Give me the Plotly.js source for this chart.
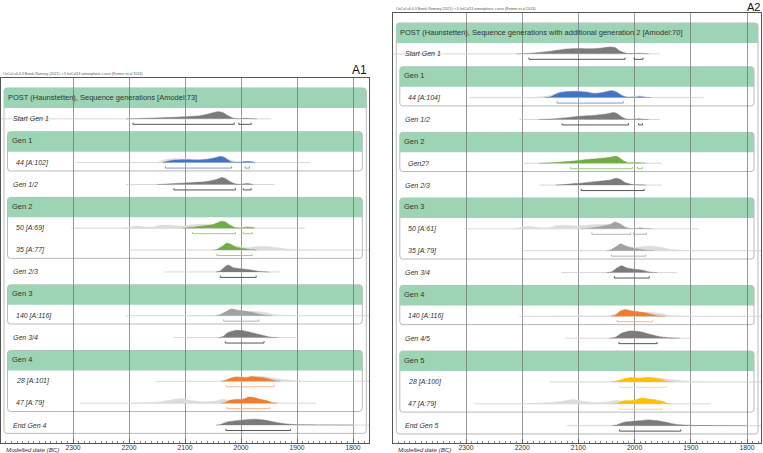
<!DOCTYPE html>
<html>
<head>
<meta charset="utf-8">
<script src="https://cdn.plot.ly/plotly-3.0.1.min.js"></script>
<style>
  html, body { margin: 0; padding: 0; background: #fff; }
  #chart { width: 763px; height: 453px; }
</style>
</head>
<body>
<div id="chart"></div>
<script>
var ticks = [2300, 2200, 2100, 2000, 1900, 1800];

// ---- A1 : Sequence generations ----
var a1Labels = ['POST (Haunstetten), Sequence generations [Amodel:73]', 'Start Gen 1', 'Gen 1', '44 [A:102]', 'Gen 1/2',
  'Gen 2', '50 [A:69]', '35 [A:77]', 'Gen 2/3', 'Gen 3', '140 [A:116]', 'Gen 3/4', 'Gen 4', '28 [A:101]', '47 [A:79]', 'End Gen 4'];

var a1StartTail = [2430, 1946];
var a1StartPost = [[2205,0],[2145,0.14],[2100,0.29],[2074,0.43],[2059,0.67],[2050,0.86],[2041,1],[2032,0.86],[2023,0.43],[2014,0.1],[2003,0.03],[1992,0.08],[1980,0.02],[1972,0]];
var a1StartRange = [[2193,2012],[2004,1982]];

var a1G1Tail = [2295, 1876];
var a1G1Prior = [[2150,0],[2140,0.3],[2130,0.5],[2115,0.55],[2095,0.5],[2075,0.45],[2060,0.5],[2045,0.75],[2037,0.9],[2028,0.75],[2018,0.35],[2010,0.1],[2000,0.08],[1990,0.2],[1980,0.05],[1970,0]];
var a1G1Post = [[2140,0],[2130,0.2],[2118,0.35],[2098,0.4],[2074,0.35],[2059,0.45],[2044,0.7],[2037,0.85],[2030,0.7],[2023,0.35],[2017,0.1],[2005,0.04],[1990,0.15],[1982,0.12],[1975,0]];
var a1G1Range = [[2135,2017],[1993,1985]];

var a1G12Tail = [2205, 1940];
var a1G12Post = [[2150,0],[2100,0.2],[2062,0.4],[2044,0.7],[2034,0.95],[2029,0.85],[2020,0.4],[2011,0.1],[2000,0.03],[1988,0.12],[1978,0]];
var a1G12Range = [[2120,2010],[1996,1982]];

var a1S50Tail = [2303, 1886];
var a1S50Prior = [[2215,0],[2199,0.15],[2187,0.3],[2175,0.2],[2155,0.18],[2145,0.4],[2133,0.45],[2118,0.35],[2104,0.3],[2092,0.45],[2074,0.55],[2056,0.55],[2038,0.55],[2026,0.3],[2014,0.05],[2000,0.05],[1990,0.15],[1978,0]];
var a1S50Post = [[2105,0],[2090,0.1],[2068,0.3],[2050,0.5],[2035,0.95],[2029,0.9],[2020,0.45],[2011,0.1],[2000,0.03],[1990,0.15],[1982,0.12],[1975,0]];
var a1S50Range = [[2087,2010],[1996,1980]];

var a1S35Tail = [2200, 1771];
var a1S35Prior = [[2045,0],[2026,0.5],[2014,0.55],[2000,0.4],[1985,0.35],[1973,0.5],[1955,0.5],[1937,0.35],[1919,0.15],[1895,0.03],[1880,0]];
var a1S35Post = [[2050,0],[2044,0.05],[2032,0.6],[2026,0.95],[2020,0.85],[2008,0.4],[1990,0.15],[1979,0.03],[1972,0]];
var a1S35Range = [[2043,1980]];

var a1G23Tail = [2136, 1930];
var a1G23Post = [[2045,0],[2038,0.1],[2029,0.7],[2023,0.95],[2014,0.6],[2000,0.45],[1985,0.3],[1970,0.1],[1960,0.03],[1950,0]];
var a1G23Range = [[2037,1973]];

var a1S140Tail = [2205, 1771];
var a1S140Prior = [[2130,0],[2115,0.04],[2100,0],[2045,0],[2038,0.2],[2026,0.5],[2014,0.7],[2000,0.6],[1985,0.6],[1967,0.55],[1955,0.4],[1940,0.15],[1910,0.03],[1895,0]];
var a1S140Post = [[2045,0],[2038,0.1],[2026,0.6],[2017,0.95],[2008,0.8],[1994,0.65],[1979,0.45],[1967,0.2],[1955,0.05],[1945,0]];
var a1S140Range = [[2031,1968]];

var a1G34Tail = [2121, 1901];
var a1G34Post = [[2040,0],[2032,0.15],[2023,0.7],[2008,1],[1996,0.95],[1979,0.65],[1961,0.3],[1949,0.08],[1935,0]];
var a1G34Range = [[2028,1959]];

var a1S28Tail = [2151, 1771];
var a1S28Prior = [[2035,0],[2029,0.1],[2014,0.55],[2000,0.6],[1979,0.6],[1961,0.65],[1943,0.45],[1925,0.25],[1907,0.1],[1890,0.02],[1880,0]];
var a1S28Post = [[2035,0],[2029,0.1],[2020,0.4],[2008,0.6],[2000,0.55],[1990,0.5],[1982,0.65],[1973,0.6],[1961,0.5],[1949,0.3],[1937,0.05],[1930,0]];
var a1S28Range = [[2026,1941]];

var a1S47Tail = [2287, 1866];
var a1S47Prior = [[2200,0],[2187,0.03],[2139,0.25],[2121,0.5],[2106,0.65],[2092,0.4],[2068,0.2],[2044,0.3],[2032,0.55],[2023,0.4],[2010,0.45],[1996,0.55],[1985,0.85],[1976,0.75],[1964,0.5],[1952,0.3],[1943,0.05],[1935,0]];
var a1S47Post = [[2035,0],[2029,0.05],[2020,0.4],[2008,0.5],[1996,0.55],[1985,0.85],[1976,0.75],[1964,0.5],[1952,0.3],[1943,0.05],[1935,0]];
var a1S47Range = [[2025,1949]];

var a1EndTail = [2044, 1771];
var a1EndPost = [[2045,0],[2038,0.05],[2026,0.4],[2008,0.6],[1990,0.75],[1973,0.8],[1955,0.65],[1937,0.35],[1919,0.15],[1895,0.04],[1850,0.02],[1800,0]];
var a1EndRange = [[2027,1912]];

// ---- A2 : with additional generation 2 ----
var a2Labels = ['POST (Haunstetten), Sequence generations with additional generation 2 [Amodel:70]', 'Start Gen 1', 'Gen 1', '44 [A:104]', 'Gen 1/2',
  'Gen 2', 'Gen2?', 'Gen 2/3', 'Gen 3', '50 [A:61]', '35 [A:79]', 'Gen 3/4', 'Gen 4', '140 [A:116]', 'Gen 4/5', 'Gen 5', '28 [A:100]', '47 [A:79]', 'End Gen 5'];

var a2StartTail = [2430, 1955];
var a2StartPost = [[2210,0],[2190,0.05],[2157,0.3],[2133,0.55],[2121,0.67],[2098,0.76],[2080,0.7],[2062,0.78],[2044,0.95],[2035,0.88],[2026,0.4],[2014,0.06],[2000,0.05],[1993,0.1],[1985,0.05],[1975,0]];
var a2StartRange = [[2188,2017],[2001,1985]];

var a2G1Tail = [2294, 1877];
var a2G1Prior = [[2200,0],[2180,0.05],[2150,0.3],[2136,0.7],[2121,0.9],[2104,0.92],[2086,0.85],[2071,0.65],[2056,0.75],[2041,1],[2032,0.8],[2023,0.35],[2010,0.1],[1990,0.25],[1978,0.05],[1965,0]];
var a2G1Post = [[2160,0],[2150,0.1],[2136,0.6],[2121,0.8],[2104,0.85],[2086,0.75],[2071,0.55],[2056,0.7],[2041,0.95],[2032,0.75],[2023,0.3],[2014,0.06],[2000,0.05],[1990,0.12],[1982,0.06],[1972,0]];
var a2G1Range = [[2138,2020]];

var a2G12Tail = [2205, 1955];
var a2G12Post = [[2170,0],[2151,0.05],[2121,0.25],[2098,0.45],[2068,0.6],[2050,0.75],[2038,0.95],[2032,0.85],[2023,0.35],[2014,0.06],[2000,0.04],[1993,0.1],[1985,0.03],[1975,0]];
var a2G12Range = [[2129,2011],[1993,1986]];

var a2G2Tail = [2200, 1952];
var a2G2Post = [[2170,0],[2151,0.05],[2110,0.3],[2080,0.55],[2050,0.75],[2035,0.95],[2029,0.85],[2020,0.35],[2011,0.08],[2000,0.05],[1990,0.06],[1980,0]];
var a2G2Range = [[2114,2004],[1995,1986]];

var a2G23Tail = [2169, 1952];
var a2G23Post = [[2140,0],[2133,0.03],[2098,0.25],[2068,0.5],[2044,0.7],[2033,0.95],[2026,0.8],[2017,0.35],[2005,0.08],[1990,0.03],[1980,0]];
var a2G23Range = [[2095,1983]];

var a2S50Tail = [2303, 1886];
var a2S50Prior = [[2215,0],[2199,0.25],[2187,0.35],[2169,0.15],[2151,0.2],[2139,0.45],[2121,0.5],[2104,0.4],[2086,0.5],[2068,0.6],[2050,0.6],[2038,0.65],[2023,0.3],[2012,0.05],[2000,0.05],[1990,0.15],[1978,0.03],[1970,0]];
var a2S50Post = [[2095,0],[2086,0.05],[2062,0.3],[2044,0.6],[2035,0.95],[2026,0.7],[2017,0.25],[2008,0.05],[2000,0.04],[1990,0.12],[1979,0.03],[1970,0]];
var a2S50Range = [[2076,2007],[2002,1979]];

var a2S35Tail = [2200, 1775];
var a2S35Prior = [[2050,0],[2041,0.2],[2029,0.55],[2014,0.55],[2002,0.45],[1990,0.5],[1976,0.65],[1955,0.5],[1937,0.2],[1913,0.05],[1890,0]];
var a2S35Post = [[2050,0],[2044,0.05],[2032,0.6],[2025,0.95],[2017,0.7],[2002,0.35],[1987,0.15],[1976,0.03],[1965,0]];
var a2S35Range = [[2041,1980]];

var a2G34Tail = [2130, 1925];
var a2G34Post = [[2050,0],[2041,0.1],[2032,0.6],[2023,0.95],[2014,0.65],[1999,0.45],[1985,0.3],[1973,0.08],[1960,0]];
var a2G34Range = [[2036,1974]];

var a2S140Tail = [2205, 1775];
var a2S140Prior = [[2140,0],[2133,0.03],[2100,0.03],[2050,0.02],[2038,0.2],[2026,0.5],[2014,0.65],[1990,0.55],[1973,0.55],[1955,0.4],[1940,0.15],[1913,0.03],[1895,0]];
var a2S140Post = [[2042,0],[2035,0.15],[2026,0.7],[2017,0.95],[2005,0.75],[1990,0.6],[1976,0.4],[1964,0.15],[1955,0.03],[1945,0]];
var a2S140Range = [[2031,1968]];

var a2G45Tail = [2124, 1901];
var a2G45Post = [[2045,0],[2035,0.1],[2023,0.7],[2008,1],[1990,0.9],[1973,0.55],[1955,0.2],[1937,0.05],[1920,0]];
var a2G45Range = [[2028,1960]];

var a2S28Tail = [2151, 1775];
var a2S28Prior = [[2040,0],[2032,0.1],[2014,0.5],[1990,0.55],[1967,0.6],[1943,0.4],[1919,0.2],[1895,0.05],[1875,0]];
var a2S28Post = [[2040,0],[2032,0.1],[2020,0.4],[2005,0.6],[1993,0.5],[1976,0.65],[1964,0.5],[1952,0.35],[1943,0.1],[1937,0.02],[1930,0]];
var a2S28Range = [[2026,1943]];

var a2S47Tail = [2285, 1865];
var a2S47Prior = [[2200,0],[2187,0.03],[2139,0.25],[2121,0.45],[2110,0.6],[2095,0.4],[2068,0.15],[2044,0.3],[2032,0.5],[2023,0.35],[2002,0.45],[1987,0.8],[1976,0.65],[1961,0.5],[1949,0.3],[1943,0.05],[1935,0]];
var a2S47Post = [[2040,0],[2032,0.05],[2020,0.4],[2002,0.45],[1987,0.8],[1976,0.65],[1961,0.5],[1949,0.3],[1943,0.05],[1935,0]];
var a2S47Range = [[2026,1951]];

var a2EndTail = [2121, 1775];
var a2EndPost = [[2040,0],[2032,0.1],[2020,0.45],[2002,0.6],[1976,0.8],[1961,0.7],[1937,0.35],[1919,0.12],[1895,0.04],[1850,0.02],[1800,0]];
var a2EndRange = [[2027,1918]];

// colours
var PRIOR = '#dcdcdc', DARK = '#7b7b7b', MID = '#a2a2a2';
var BLUE = '#4472c4', GREEN = '#70ad47', ORANGE = '#ed7d31', YELLOW = '#ffc000';
var BAND = '#9cd4b5', BOXLINE = '#b9b9b9';
var H = 0.33;   // peak height in row units

// row descriptions: [kind, tail, prior, post, ranges, colour, range colour]
var a1Rows = [
  ['post'],
  ['row', a1StartTail, null, a1StartPost, a1StartRange, DARK, '#555'],
  ['band'],
  ['inner', a1G1Tail, a1G1Prior, a1G1Post, a1G1Range, BLUE, '#7c9ddb'],
  ['row', a1G12Tail, null, a1G12Post, a1G12Range, DARK, '#555'],
  ['band'],
  ['inner', a1S50Tail, a1S50Prior, a1S50Post, a1S50Range, GREEN, '#9ccd7e'],
  ['inner', a1S35Tail, a1S35Prior, a1S35Post, a1S35Range, GREEN, '#9ccd7e'],
  ['row', a1G23Tail, null, a1G23Post, a1G23Range, DARK, '#555'],
  ['band'],
  ['inner', a1S140Tail, a1S140Prior, a1S140Post, a1S140Range, MID, '#b3b3b3'],
  ['row', a1G34Tail, null, a1G34Post, a1G34Range, DARK, '#555'],
  ['band'],
  ['inner', a1S28Tail, a1S28Prior, a1S28Post, a1S28Range, ORANGE, '#f5b48e'],
  ['inner', a1S47Tail, a1S47Prior, a1S47Post, a1S47Range, ORANGE, '#f5b48e'],
  ['row', a1EndTail, null, a1EndPost, a1EndRange, DARK, '#555']
];
var a2Rows = [
  ['post'],
  ['row', a2StartTail, null, a2StartPost, a2StartRange, DARK, '#555'],
  ['band'],
  ['inner', a2G1Tail, a2G1Prior, a2G1Post, a2G1Range, BLUE, '#7c9ddb'],
  ['row', a2G12Tail, null, a2G12Post, a2G12Range, DARK, '#555'],
  ['band'],
  ['inner', a2G2Tail, null, a2G2Post, a2G2Range, GREEN, '#9ccd7e'],
  ['row', a2G23Tail, null, a2G23Post, a2G23Range, DARK, '#555'],
  ['band'],
  ['inner', a2S50Tail, a2S50Prior, a2S50Post, a2S50Range, MID, '#b3b3b3'],
  ['inner', a2S35Tail, a2S35Prior, a2S35Post, a2S35Range, MID, '#b3b3b3'],
  ['row', a2G34Tail, null, a2G34Post, a2G34Range, DARK, '#555'],
  ['band'],
  ['inner', a2S140Tail, a2S140Prior, a2S140Post, a2S140Range, ORANGE, '#f5b48e'],
  ['row', a2G45Tail, null, a2G45Post, a2G45Range, DARK, '#555'],
  ['band'],
  ['inner', a2S28Tail, a2S28Prior, a2S28Post, a2S28Range, YELLOW, '#ffdf85'],
  ['inner', a2S47Tail, a2S47Prior, a2S47Post, a2S47Range, YELLOW, '#ffdf85'],
  ['row', a2EndTail, null, a2EndPost, a2EndRange, DARK, '#555']
];
var a1Groups = [[2,3],[5,7],[9,10],[12,14]];
var a2Groups = [[2,3],[5,6],[8,10],[12,13],[15,17]];

// panel geometry in pixels
var panels = [
  {rows: a1Rows, labels: a1Labels, groups: a1Groups, xa: 'x', ya: 'y', left: 1, right: 369.3},
  {rows: a2Rows, labels: a2Labels, groups: a2Groups, xa: 'x2', ya: 'y2', left: 393.3, right: 761}
];

var W = 763;
var FONT = 'Liberation Sans, Arial, sans-serif';
var traces = [], shapes = [], annotations = [];

function px(v) { return v / W; }

function roundPath(x0, x1, y0, y1, rTop, rBot) {
  var rx = px(3), ry = 0.14;
  var a = rTop ? 1 : 0, b = rBot ? 1 : 0;
  return 'M' + (x0 + rx * a) + ',' + y0 +
    ' L' + (x1 - rx * a) + ',' + y0 +
    ' Q' + x1 + ',' + y0 + ' ' + x1 + ',' + (y0 + ry * a) +
    ' L' + x1 + ',' + (y1 - ry * b) +
    ' Q' + x1 + ',' + y1 + ' ' + (x1 - rx * b) + ',' + y1 +
    ' L' + (x0 + rx * b) + ',' + y1 +
    ' Q' + x0 + ',' + y1 + ' ' + x0 + ',' + (y1 - ry * b) +
    ' L' + x0 + ',' + (y0 + ry * a) +
    ' Q' + x0 + ',' + y0 + ' ' + (x0 + rx * a) + ',' + y0 + ' Z';
}

function dist(pts, r, color, xa, ya) {
  return {
    x: pts.map(function (p) { return p[0]; }),
    y: pts.map(function (p) { return r - p[1] * H; }),
    xaxis: xa, yaxis: ya, mode: 'lines', fill: 'toself', fillcolor: color,
    line: {color: color, width: 0.5, shape: 'spline', smoothing: 0.6},
    hoverinfo: 'skip', showlegend: false
  };
}

panels.forEach(function (p) {
  var L = p.left, R = p.right, last = p.rows.length - 1;
  // outer box and POST band
  shapes.push({type: 'path', xref: 'paper', yref: p.ya, layer: 'between',
    path: roundPath(px(L + 3), px(R - 3), -0.41, last + 0.38, true, true),
    line: {color: BOXLINE, width: 1}});
  shapes.push({type: 'path', xref: 'paper', yref: p.ya, layer: 'between',
    path: roundPath(px(L + 3), px(R - 3), -0.41, 0.5, true, false),
    fillcolor: BAND, line: {width: 0}});
  // inner groups
  p.groups.forEach(function (g) {
    shapes.push({type: 'path', xref: 'paper', yref: p.ya, layer: 'between',
      path: roundPath(px(L + 6.5), px(R - 7), g[0] - 0.41, g[1] + 0.38, true, true),
      line: {color: BOXLINE, width: 1}});
    shapes.push({type: 'path', xref: 'paper', yref: p.ya, layer: 'between',
      path: roundPath(px(L + 6.5), px(R - 7), g[0] - 0.41, g[0] + 0.5, true, false),
      fillcolor: BAND, line: {width: 0}});
  });

  p.rows.forEach(function (row, r) {
    var kind = row[0];
    var lx = kind === 'post' ? L + 5 : kind === 'band' ? L + 8.5 : kind === 'inner' ? L + 13 : L + 9.5;
    var txt = (kind === 'post' || kind === 'band') ? p.labels[r] : '<i>' + p.labels[r] + '</i>';
    annotations.push({xref: 'paper', yref: p.ya, x: px(lx), y: r, xanchor: 'left', yanchor: 'middle',
      text: txt, showarrow: false, font: {family: FONT, size: (kind === 'post' || kind === 'band') ? 7.5 : 7, color: '#333'}});
    if (kind === 'post' || kind === 'band') return;

    traces.push({x: row[1], y: [r, r], xaxis: p.xa, yaxis: p.ya, mode: 'lines',
      line: {color: '#cdcdcd', width: 0.8}, hoverinfo: 'skip', showlegend: false});
    if (row[2]) traces.push(dist(row[2], r, PRIOR, p.xa, p.ya));
    traces.push(dist(row[3], r, row[5], p.xa, p.ya));
    var bx = [], by = [];
    row[4].forEach(function (rg) {
      bx.push(rg[0], rg[0], rg[1], rg[1], null);
      by.push(r + 0.17, r + 0.25, r + 0.25, r + 0.17, null);
    });
    traces.push({x: bx, y: by, xaxis: p.xa, yaxis: p.ya, mode: 'lines',
      line: {color: row[6], width: 1}, hoverinfo: 'skip', showlegend: false});
  });

  annotations.push({xref: 'paper', yref: 'paper', x: px(L + 3), y: 4 / 453, xanchor: 'left', yanchor: 'middle',
    text: '<i>Modelled date (BC)</i>', showarrow: false, font: {family: FONT, size: 6.2, color: '#333'}});
});

// credit lines and panel letters
annotations.push({xref: 'paper', yref: 'paper', x: px(1), y: 1 - 74 / 453, xanchor: 'left', yanchor: 'middle',
  text: 'OxCal v4.4.3 Bronk Ramsey (2021); r:5 IntCal13 atmospheric curve (Reimer et al 2013)', showarrow: false,
  font: {family: FONT, size: 3.6, color: '#555'}});
annotations.push({xref: 'paper', yref: 'paper', x: px(394), y: 1 - 9 / 453, xanchor: 'left', yanchor: 'middle',
  text: 'OxCal v4.4.3 Bronk Ramsey (2021); r:5 IntCal13 atmospheric curve (Reimer et al 2013)', showarrow: false,
  font: {family: FONT, size: 3.6, color: '#555'}});
annotations.push({xref: 'paper', yref: 'paper', x: px(369), y: 1 - 70 / 453, xanchor: 'right', yanchor: 'middle',
  text: 'A1', showarrow: false, font: {family: FONT, size: 12, color: '#111'}});
annotations.push({xref: 'paper', yref: 'paper', x: px(761), y: 1, xanchor: 'right', yanchor: 'top',
  text: 'A2', showarrow: false, borderpad: 0, font: {family: FONT, size: 11, color: '#111'}});

function xaxisCfg(dom, range, anchor) {
  return {
    domain: dom, range: range, anchor: anchor,
    tickvals: ticks, ticktext: ticks.map(String), ticks: 'inside', ticklen: 4, tickcolor: '#666',
    minor: {dtick: 10, ticks: 'inside', ticklen: 2.5, tickcolor: '#888', showgrid: false},
    showgrid: true, gridcolor: '#6f6f6f', gridwidth: 0.7, zeroline: false,
    showline: true, mirror: true, linecolor: '#555', linewidth: 1,
    tickfont: {family: FONT, size: 6.8, color: '#333'}, ticklabelstandoff: -2
  };
}
function yaxisCfg(dom, range, anchor) {
  return {domain: dom, range: range, anchor: anchor, showgrid: false, zeroline: false,
    showticklabels: false, ticks: '', showline: true, mirror: true, linecolor: '#555', linewidth: 1};
}

var S = 21.87;
var layout = {
  width: 763, height: 453,
  margin: {l: 0, r: 0, t: 0, b: 0},
  paper_bgcolor: '#fff', plot_bgcolor: 'rgba(0,0,0,0)',
  showlegend: false,
  xaxis: xaxisCfg([px(1), px(369.3)], [2428.6, 1771], 'y'),
  yaxis: yaxisCfg([10 / 453, 375 / 453], [(443 - 97) / S, (78 - 97) / S], 'x'),
  xaxis2: xaxisCfg([px(393.3), px(761)], [2429.4, 1775.1], 'y2'),
  yaxis2: yaxisCfg([10 / 453, 440 / 453], [(443 - 32) / S, (13 - 32) / S], 'x2'),
  shapes: shapes,
  annotations: annotations
};

Plotly.newPlot(document.getElementById('chart'), traces, layout, {staticPlot: true});
</script>
</body>
</html>
